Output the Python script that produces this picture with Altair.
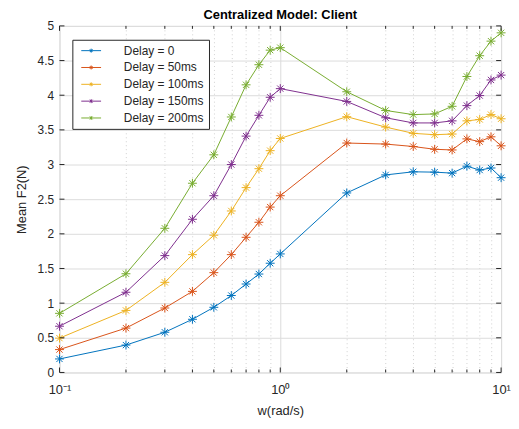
import altair as alt
import pandas as pd

w = [0.1, 0.2, 0.3, 0.4, 0.5, 0.6, 0.7, 0.8, 0.9, 1, 2, 3, 4, 5, 6, 7, 8, 9, 10]
delay_0 = [0.195, 0.395, 0.58, 0.767, 0.94, 1.11, 1.276, 1.42, 1.576, 1.71,
           2.59, 2.85, 2.895, 2.89, 2.876, 2.976, 2.92, 2.95, 2.81]
delay_50 = [0.33, 0.64, 0.93, 1.17, 1.44, 1.70, 1.95, 2.167, 2.386, 2.55,
            3.31, 3.295, 3.26, 3.22, 3.21, 3.37, 3.33, 3.40, 3.27]
delay_100 = [0.495, 0.895, 1.30, 1.70, 1.98, 2.33, 2.667, 2.94, 3.20, 3.376,
             3.69, 3.54, 3.45, 3.43, 3.44, 3.63, 3.65, 3.72, 3.66]
delay_150 = [0.667, 1.157, 1.686, 2.21, 2.55, 3.0, 3.41, 3.71, 3.97, 4.095,
             3.91, 3.675, 3.60, 3.60, 3.63, 3.85, 3.995, 4.22, 4.29]
delay_200 = [0.853, 1.424, 2.08, 2.73, 3.14, 3.686, 4.15, 4.44, 4.65, 4.686,
             4.05, 3.78, 3.72, 3.73, 3.84, 4.27, 4.57, 4.78, 4.90]

series_names = ["Delay = 0", "Delay = 50ms", "Delay = 100ms", "Delay = 150ms", "Delay = 200ms"]
series_values = [delay_0, delay_50, delay_100, delay_150, delay_200]
colors = ["#0072BD", "#D95319", "#EDB120", "#7E2F8E", "#77AC30"]

y_ticks = [0, 0.5, 1, 1.5, 2, 2.5, 3, 3.5, 4, 4.5, 5]
x_major = [0.1, 1, 10]
x_minor = [0.2, 0.3, 0.4, 0.5, 0.6, 0.7, 0.8, 0.9, 2, 3, 4, 5, 6, 7, 8, 9]

rows = []
for name, vals in zip(series_names, series_values):
    for xv, yv in zip(w, vals):
        rows.append({"w": xv, "F": yv, "series": name})
df = pd.DataFrame(rows)

W, H = 446, 350
AX = "#262626"
FONT = "Liberation Sans"
STAR = "M-1,0L1,0M0,-1L0,1M-0.7,-0.7L0.7,0.7M-0.7,0.7L0.7,-0.7"
# legend glyph: a line with a star in its middle (line drawn to the right of the nominal symbol)
LEG = "M-1,0L9,0M4,-1L4,1M3.3,-0.7L4.7,0.7M3.3,0.7L4.7,-0.7"

xscale = alt.Scale(type="log", domain=[0.1, 10], nice=False)
yscale = alt.Scale(domain=[0, 5], nice=False, zero=False)

is_major = "abs(log(datum.value)/LN10 - round(log(datum.value)/LN10)) < 0.001"

x_axis = alt.Axis(
    values=x_major + x_minor,
    labelExpr=("abs(datum.value - 0.1) < 1e-6 ? '10⁻¹' : "
               "(abs(datum.value - 1) < 1e-6 ? '10⁰' : "
               "(abs(datum.value - 10) < 1e-6 ? '10¹' : ''))"),
    labelFlush=False, labelOverlap=False, ticks=False, domain=False,
    grid=True,
    gridDash={"condition": {"test": is_major, "value": []}, "value": [1, 3]},
    gridColor={"condition": {"test": is_major, "value": "#dcdcdc"}, "value": "#d0d0d0"},
    labelFontSize=13, labelColor=AX, labelPadding=11, labelFont=FONT,
    title="w(rad/s)", titleFontSize=13, titleFont=FONT, titleColor=AX,
    titleFontWeight="normal", titlePadding=8,
)
y_axis = alt.Axis(
    values=y_ticks, format="~g", ticks=False, domain=False, grid=True,
    labelOverlap=False, labelFlush=False,
    gridColor="#dcdcdc", labelFontSize=12, labelColor=AX, labelPadding=6,
    labelFont=FONT,
    title="Mean F2(N)", titleFontSize=13, titleFont=FONT, titleColor=AX,
    titleFontWeight="normal", titleX=-38, titleY=H / 2, titleAngle=270,
    titleBaseline="middle", titleAlign="center",
)

color = alt.Color(
    "series:N", sort=series_names,
    scale=alt.Scale(domain=series_names, range=colors),
    legend=alt.Legend(
        title=None, orient="none", legendX=13, legendY=14,
        symbolType=LEG, symbolSize=16, symbolStrokeWidth=1,
        symbolFillColor="transparent",
        labelFontSize=12, labelFont=FONT, labelColor=AX, labelOffset=35,
        rowPadding=5, padding=5, strokeColor=AX, fillColor="white",
        cornerRadius=0,
    ),
)

base = alt.Chart(df).encode(
    x=alt.X("w:Q", scale=xscale, axis=x_axis),
    y=alt.Y("F:Q", scale=yscale, axis=y_axis),
    color=color,
)
lines = base.mark_line(strokeWidth=1)
points = base.mark_point(shape=STAR, size=81, filled=False, strokeWidth=1, opacity=1)

ydf = pd.DataFrame({"v": y_ticks})
xmaj = pd.DataFrame({"v": x_major})
xmin = pd.DataFrame({"v": x_minor})

YV = alt.Y("v:Q", scale=yscale, axis=y_axis)
XV = alt.X("v:Q", scale=xscale, axis=x_axis)

yt_left = alt.Chart(ydf).mark_rule(color=AX, strokeWidth=1).encode(
    y=YV, x=alt.value(0), x2=alt.value(5))
yt_right = alt.Chart(ydf).mark_rule(color=AX, strokeWidth=1).encode(
    y=YV, x=alt.value(W - 5), x2=alt.value(W))
xt_bot = alt.Chart(xmaj).mark_rule(color=AX, strokeWidth=1).encode(
    x=XV, y=alt.value(H - 5), y2=alt.value(H))
xt_top = alt.Chart(xmaj).mark_rule(color=AX, strokeWidth=1).encode(
    x=XV, y=alt.value(0), y2=alt.value(5))
xm_bot = alt.Chart(xmin).mark_rule(color=AX, strokeWidth=1).encode(
    x=XV, y=alt.value(H - 3), y2=alt.value(H))
xm_top = alt.Chart(xmin).mark_rule(color=AX, strokeWidth=1).encode(
    x=XV, y=alt.value(0), y2=alt.value(3))

chart = alt.layer(
    lines, points, yt_left, yt_right, xt_bot, xt_top, xm_bot, xm_top
).properties(
    width=W, height=H,
    title=alt.TitleParams("Centralized Model: Client", fontSize=13,
                          fontWeight="bold", font=FONT, color="black",
                          offset=5, frame="group", dy=7),
    autosize=alt.AutoSizeParams(type="none"),
    padding={"left": 52, "top": 16, "right": 10, "bottom": 52},
).configure_view(stroke=AX, strokeWidth=1).configure(background="white")

chart.save("out.html", embed_options={"renderer": "svg", "actions": False})
